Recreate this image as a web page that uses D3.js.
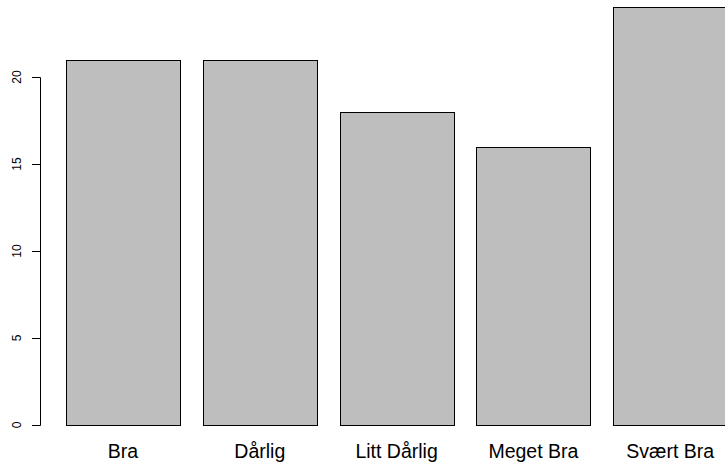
<!DOCTYPE html>
<html><head><meta charset="utf-8">
<script src="https://cdn.jsdelivr.net/npm/d3@7"></script>
<style>html,body{margin:0;padding:0;background:#fff;overflow:hidden}</style>
</head><body>
<script>
const categories = ["Bra", "Dårlig", "Litt Dårlig", "Meget Bra", "Svært Bra"];
const values = [21, 21, 18, 16, 24];
const yTicks = [0, 5, 10, 15, 20];

const W = 725, H = 463;
const svg = d3.select("body").append("svg").attr("width", W).attr("height", H)
  .style("font-family", "Liberation Sans, Arial, sans-serif");

// R barplot units: width 1, space 0.2
const x = d3.scaleLinear().domain([0, 6]).range([43.2, 727.2]);
const y = d3.scaleLinear().domain([0, 20]).range([425, 77]);

const bars = categories.map((c, i) => ({c, v: values[i], l: 0.2 + 1.2 * i, r: 1.2 + 1.2 * i}));

svg.selectAll("rect.bar").data(bars).enter().append("rect")
  .attr("class", "bar")
  .attr("x", d => Math.round(x(d.l)) + 0.5)
  .attr("y", d => Math.round(y(d.v)) + 0.5)
  .attr("width", d => Math.round(x(d.r)) - Math.round(x(d.l)))
  .attr("height", d => Math.round(y(0)) - Math.round(y(d.v)))
  .attr("fill", "#bebebe").attr("stroke", "#000").attr("stroke-width", 1);

svg.selectAll("text.cat").data(bars).enter().append("text")
  .attr("class", "cat")
  .attr("x", d => x((d.l + d.r) / 2))
  .attr("y", 458)
  .attr("text-anchor", "middle")
  .attr("font-size", "19.5px")
  .attr("fill", "#000")
  .text(d => d.c);

// y axis (R style)
const ax = svg.append("g");
ax.append("line").attr("x1", 40.5).attr("x2", 40.5)
  .attr("y1", Math.round(y(0)) + 0.5).attr("y2", Math.round(y(20)) + 0.5)
  .attr("stroke", "#000");
ax.selectAll("line.tick").data(yTicks).enter().append("line")
  .attr("class", "tick")
  .attr("x1", 32).attr("x2", 40.5)
  .attr("y1", d => Math.round(y(d)) + 0.5).attr("y2", d => Math.round(y(d)) + 0.5)
  .attr("stroke", "#000");
ax.selectAll("text.tl").data(yTicks).enter().append("text")
  .attr("class", "tl")
  .attr("transform", d => `translate(20.5,${y(d)}) rotate(-90)`)
  .attr("text-anchor", "middle")
  .attr("font-size", "12px")
  .attr("fill", "#000")
  .text(d => d);
</script>
</body></html>
